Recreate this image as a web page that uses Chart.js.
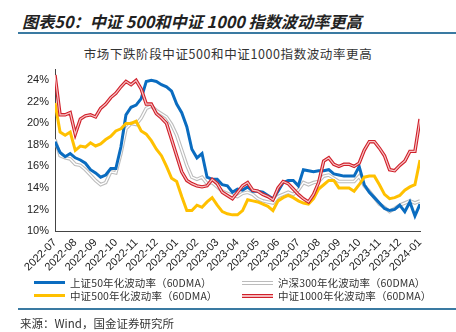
<!DOCTYPE html>
<html>
<head>
<meta charset="utf-8">
<script src="https://cdn.jsdelivr.net/npm/chart.js@4.4.1/dist/chart.umd.min.js"></script>
<style>
  body { margin: 0; background: #fff; }
  #page { position: relative; width: 456px; height: 332px; overflow: hidden; font-family: "Noto Sans CJK SC", sans-serif; color: #222; }
  .rule { position: absolute; left: 18px; right: 0; height: 2px; background: #3a7aa2; }
  #title { position: absolute; left: 22px; top: 9px; font-size: 16.2px; font-weight: bold; font-style: italic; white-space: nowrap; }
  #subtitle { position: absolute; left: 0; width: 456px; top: 44px; text-align: center; font-size: 12.5px; letter-spacing: 0.6px; color: #333; }
  #chartBox { position: absolute; left: 0; top: 60px; width: 456px; height: 220px; }
  .leg { position: absolute; font-size: 10.5px; line-height: 13px; white-space: nowrap; color: #333; letter-spacing: 0.1px; }
  .leg span.s { position: absolute; left: -36px; top: 5px; width: 31px; height: 3px; }
  #source { position: absolute; left: 20px; top: 315px; font-size: 11.5px; color: #333; white-space: nowrap; }
</style>
</head>
<body>
<div id="page">
  <div id="title">图表50：中证 500和中证 1000 指数波动率更高</div>
  <div class="rule" style="top:32px"></div>
  <div id="subtitle">市场下跌阶段中证500和中证1000指数波动率更高</div>
  <div id="chartBox"><canvas id="chart" width="456" height="220"></canvas></div>
  <div class="leg" style="left:70px; top:276px"><span class="s" style="background:#0a6cc0"></span>上证50年化波动率（60DMA）</div>
  <div class="leg" style="left:70px; top:289px"><span class="s" style="background:#ffc000"></span>中证500年化波动率（60DMA）</div>
  <div class="leg" style="left:278px; top:276px"><span class="s" style="background:#fff; border-top:1px solid #bcbcbc; border-bottom:1px solid #bcbcbc; height:2px"></span>沪深300年化波动率（60DMA）</div>
  <div class="leg" style="left:278px; top:289px"><span class="s" style="background:#f4b8bb; border-top:1px solid #d0202a; border-bottom:1px solid #d0202a; height:2px"></span>中证1000年化波动率（60DMA）</div>
  <div class="rule" style="top:308px"></div>
  <div id="source">来源：Wind，国金证券研究所</div>
</div>

<script>
  const monthLabels = ['2022-07', '2022-08', '2022-09', '2022-10', '2022-11', '2022-12', '2023-01', '2023-02', '2023-03',
    '2023-04', '2023-05', '2023-06', '2023-07', '2023-08', '2023-09', '2023-10', '2023-11', '2023-12', '2024-01']

  // weekly samples, in months from 2022-07-01
  const weeks = Array.from({ length: 73 }, (_, i) => i / 4)

  const sz50 = [18.3, 17.3, 16.9, 17.2, 16.8, 16.6, 16.3, 15.7, 15.4, 15.0, 15.2, 15.8, 15.8, 17.8, 20.8, 21.5, 21.7, 22.3, 23.9,
    24.0, 23.9, 23.6, 23.4, 23.0, 21.8, 21.0, 19.7, 17.6, 16.8, 17.2, 15.0, 14.8, 14.8, 14.3, 14.2, 13.6, 13.9, 13.8, 14.1,
    13.7, 13.7, 13.6, 13.3, 13.0, 13.7, 14.5, 14.7, 14.7, 14.2, 15.7, 15.6, 15.5, 15.6, 15.6, 15.7, 15.3, 15.2, 15.1, 15.1,
    15.1, 16.0, 14.3, 13.6, 13.1, 12.6, 12.1, 11.9, 12.0, 12.4, 11.8, 12.7, 11.4, 12.5]

  const hs300 = [18.5, 17.0, 16.8, 16.7, 16.2, 16.1, 15.7, 15.2, 14.7, 14.3, 14.5, 15.5, 15.4, 17.2, 19.5, 20.0, 19.9, 20.5, 21.4,
    21.6, 21.2, 20.9, 20.6, 19.9, 18.9, 17.5, 16.1, 15.0, 14.8, 15.0, 14.4, 14.5, 14.1, 13.7, 13.5, 13.3, 13.2, 13.5, 13.6,
    13.4, 13.0, 12.8, 12.7, 12.6, 13.2, 13.4, 13.6, 13.4, 13.8, 14.5, 14.3, 14.5, 14.6, 15.1, 15.2, 14.9, 14.6, 14.6, 14.6,
    14.6, 15.1, 14.2, 13.7, 13.1, 12.5, 12.2, 11.8, 12.1, 12.4, 12.6, 12.8, 12.6, 12.8]

  const zz500 = [21.9, 19.2, 18.9, 19.2, 17.5, 17.9, 17.8, 18.2, 17.9, 18.1, 18.5, 18.8, 19.3, 19.5, 20.0, 20.0, 20.2, 19.3, 19.0,
    18.4, 17.6, 17.0, 16.0, 14.9, 14.6, 13.2, 11.9, 11.9, 12.4, 12.2, 12.7, 13.1, 12.4, 11.8, 11.6, 11.5, 11.5, 11.9, 12.9,
    12.8, 12.7, 12.5, 12.3, 11.9, 12.8, 13.1, 13.3, 13.1, 12.8, 12.6, 12.5, 13.0, 13.9, 14.3, 14.7, 14.7, 14.0, 14.0, 14.0,
    13.7, 14.3, 15.0, 15.1, 15.1, 14.3, 13.4, 13.0, 13.1, 13.3, 13.8, 14.1, 14.3, 16.6]

  const zz1000 = [24.5, 20.8, 20.8, 21.0, 19.0, 20.4, 20.7, 20.8, 20.6, 21.4, 21.8, 22.4, 22.8, 23.4, 23.9, 23.6, 24.0, 23.2, 21.8,
    21.8, 20.9, 20.5, 20.0, 18.5, 17.0, 15.5, 14.7, 14.4, 14.2, 14.1, 14.2, 14.8, 14.4, 13.6, 13.3, 13.0, 13.6, 14.2, 14.5,
    13.8, 13.7, 13.4, 13.2, 12.9, 14.0, 14.6, 14.4, 13.9, 13.4, 13.0, 12.7, 13.4, 14.5, 16.5, 16.8, 16.2, 16.0, 16.2, 16.2,
    16.0, 16.3, 17.5, 18.3, 18.3, 17.7, 17.0, 15.7, 15.6, 16.1, 16.5, 17.4, 17.4, 20.4]

  const pts = arr => arr.map((v, i) => ({ x: weeks[i], y: v }))

  function line(data, color, width, order) {
    return { data: pts(data), borderColor: color, borderWidth: width, order: order, pointRadius: 0, tension: 0, fill: false }
  }

  const tickFont = { family: 'Liberation Sans, Arial, sans-serif', size: 11 }

  new Chart(document.getElementById('chart').getContext('2d'), {
    type: 'line',
    data: {
      datasets: [
        line(zz1000, '#f6c4c6', 1.2, 0),
        line(zz1000, '#d0202a', 3.4, 1),
        line(zz500, '#ffc000', 3, 2),
        line(sz50, '#0a6cc0', 3, 3),
        line(hs300, '#ffffff', 1.4, 4),
        line(hs300, '#bdbdbd', 3.6, 5)
      ]
    },
    options: {
      responsive: false,
      animation: false,
      layout: { padding: { top: 6, right: 36, left: 0, bottom: 0 } },
      plugins: { legend: { display: false }, tooltip: { enabled: false } },
      scales: {
        x: {
          type: 'linear',
          min: 0,
          max: 18,
          grid: { display: false, drawTicks: true, tickLength: 3, color: '#444' },
          border: { color: '#444', width: 1 },
          ticks: {
            stepSize: 1,
            autoSkip: false,
            maxRotation: 45,
            minRotation: 45,
            padding: 2,
            color: '#222',
            font: tickFont,
            callback: v => monthLabels[v]
          },
          afterFit: s => { s.height = 49 }
        },
        y: {
          min: 10,
          max: 25,
          grid: { display: false, drawTicks: true, tickLength: 3, color: '#444' },
          border: { color: '#444', width: 1 },
          ticks: { stepSize: 2, includeBounds: false, color: '#222', font: tickFont, padding: 3, callback: v => v + '%' },
          afterFit: s => { s.width = 55 }
        }
      }
    }
  })
</script>
</body>
</html>
